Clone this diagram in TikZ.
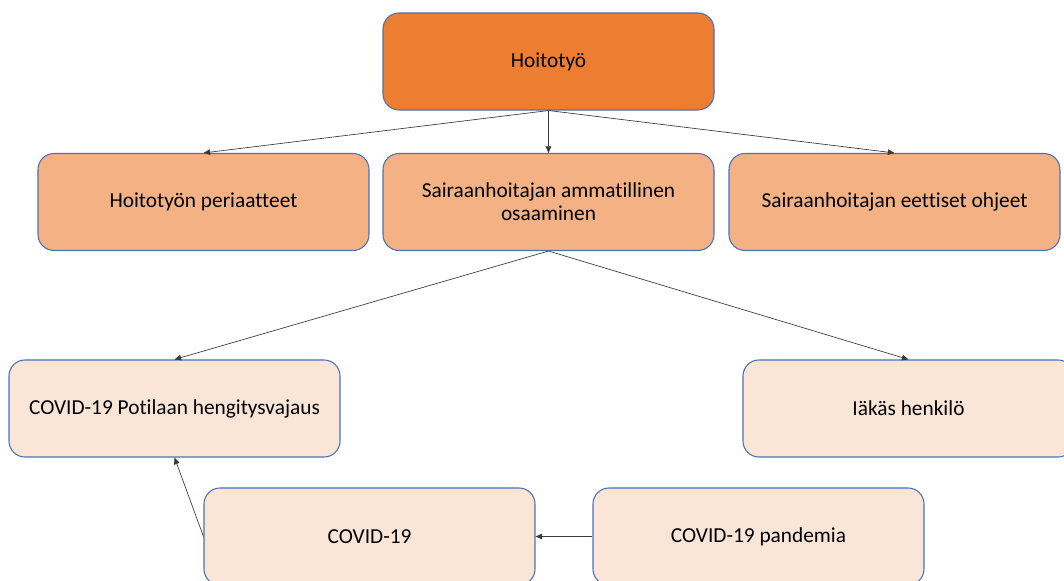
\documentclass[tikz,border=0pt]{standalone}
\usepackage{fontspec}
\setmainfont{Carlito}[Ligatures=NoCommon]
\usetikzlibrary{arrows.meta}
\definecolor{topfill}{HTML}{ED7D31}
\definecolor{midfill}{HTML}{F4B183}
\definecolor{lowfill}{HTML}{FBE5D6}
\definecolor{edgeblue}{HTML}{4A72B8}
\definecolor{linkgray}{HTML}{3A3A3A}
\begin{document}
\begin{tikzpicture}[x=0.75pt,y=-0.75pt,
  box/.style={draw=edgeblue, line width=0.8pt, rounded corners=12pt,
    minimum width=248.25pt, minimum height=72.75pt, align=center,
    font=\fontsize{16pt}{17.5pt}\selectfont, inner sep=0pt},
  boxtop/.style={box, fill=topfill},
  boxmid/.style={box, fill=midfill},
  boxlow/.style={box, fill=lowfill},
  link/.style={draw=linkgray, line width=0.5pt, -{Triangle[length=5pt,width=4.2pt]}}]
\clip (0,0) rectangle (1064,581);
\fill[white] (0,0) rectangle (1064,581);
% top level
\node[boxtop] (hoito) at (548.5,61.5) {Hoitotyö};
% second level
\node[boxmid] (peri) at (203.5,202) {Hoitotyön periaatteet};
\node[boxmid] (amm) at (548.5,202) {Sairaanhoitajan ammatillinen\\osaaminen};
\node[boxmid] (eett) at (894.5,202) {Sairaanhoitajan eettiset ohjeet};
% third level
\node[boxlow] (hengi) at (174.5,408.5) {COVID-19 Potilaan hengitysvajaus};
\node[boxlow] (iakas) at (908.5,408.5) {Iäkäs henkilö};
% bottom level
\node[boxlow] (covid) at (369.5,536.5) {COVID-19};
\node[boxlow] (pand) at (758.5,536.5) {COVID-19 pandemia};
% connectors
\draw[link] (hoito.south) -- (peri.north);
\draw[link] (hoito.south) -- (amm.north);
\draw[link] (hoito.south) -- (eett.north);
\draw[link] (amm.south) -- (hengi.north);
\draw[link] (amm.south) -- (iakas.north);
\draw[link] (pand.west) -- (covid.east);
\draw[link] (covid.west) -- (hengi.south);
\end{tikzpicture}
\end{document}
